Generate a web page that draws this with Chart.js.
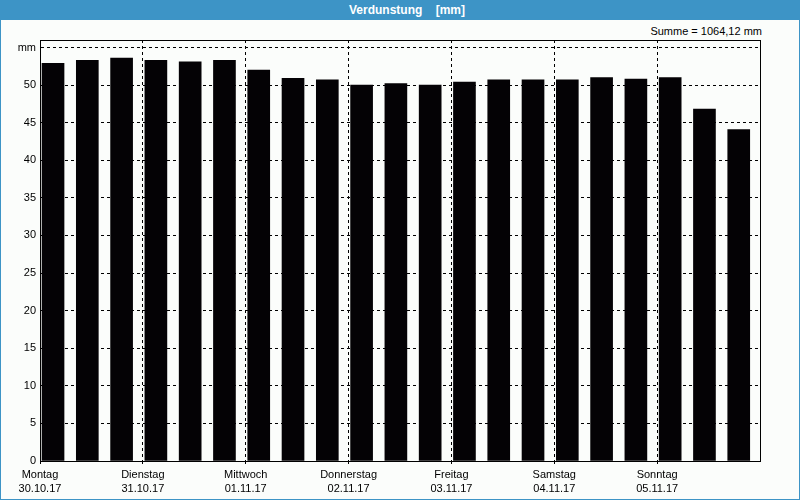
<!DOCTYPE html>
<html>
<head>
<meta charset="utf-8">
<script src="https://cdn.jsdelivr.net/npm/chart.js@4/dist/chart.umd.min.js"></script>
<style>
  body { margin: 0; background: #fbfdfb; }
  #wrap { position: relative; width: 800px; height: 500px; background: #fbfdfb; overflow: hidden; }
  #titlebar {
    position: absolute; left: 0; top: 0; width: 800px; height: 20px;
    background: #3d94c6; color: #fff; text-align: center;
    font: bold 12px "Liberation Sans", Arial, sans-serif; line-height: 20px;
    white-space: pre; padding-left: 14px; box-sizing: border-box;
  }
  #summe {
    position: absolute; right: 38px; top: 25px;
    font: 11px "Liberation Sans", Arial, sans-serif; color: #000;
  }
  #frame { position: absolute; left: 0; top: 0; width: 800px; height: 500px; box-sizing: border-box;
    border: 1px solid #3d94c6; pointer-events: none; }
  #box { position: absolute; left: 0; top: 20px; width: 800px; height: 480px; }
</style>
</head>
<body>
<div id="wrap">
  <div id="titlebar">Verdunstung    [mm]</div>
  <div id="summe">Summe = 1064,12 mm</div>
  <div id="box"><canvas id="myChart"></canvas></div>
  <div id="frame"></div>
</div>
<script>
// Tage und Datum fuer die Achse
const days = ['Montag', 'Dienstag', 'Mittwoch', 'Donnerstag', 'Freitag', 'Samstag', 'Sonntag'];
const dates = ['30.10.17', '31.10.17', '01.11.17', '02.11.17', '03.11.17', '04.11.17', '05.11.17'];
// Verdunstung in mm, drei Werte pro Tag
const values = [52.9, 53.3, 53.6, 53.3, 53.1, 53.3, 52.0, 50.9, 50.7, 50.0, 50.2, 50.0,
                50.4, 50.7, 50.7, 50.7, 51.0, 50.8, 51.0, 46.8, 44.1];
const yTicks = [0, 5, 10, 15, 20, 25, 30, 35, 40, 45, 50, 55];

const font = { family: '"Liberation Sans", Arial, sans-serif', size: 11 };

function chart1() {
  const ctx = document.getElementById('myChart');
  const barShift = 0.38; // Balken sitzen links im Slot

  // Rahmen um die Zeichenflaeche
  const boxPlugin = {
    id: 'box',
    afterDraw(chart) {
      const a = chart.chartArea;
      const c = chart.ctx;
      c.save();
      c.setLineDash([]);
      c.strokeStyle = '#000';
      c.lineWidth = 1;
      c.strokeRect(Math.round(a.left) + 0.5, Math.round(a.top) + 0.5,
                   Math.round(a.right - a.left), Math.round(a.bottom - a.top));
      c.restore();
    }
  };

  new Chart(ctx, {
    type: 'bar',
    data: {
      datasets: [{
        data: values.map((v, i) => ({ x: i + barShift, y: v })),
        backgroundColor: '#040205',
        borderWidth: 0,
        barThickness: 22
      }]
    },
    options: {
      responsive: true,
      maintainAspectRatio: false,
      animation: false,
      layout: { padding: { top: 20, right: 40, left: 0, bottom: 0 } },
      plugins: { legend: { display: false }, tooltip: { enabled: false } },
      scales: {
        x: {
          type: 'linear',
          min: 0,
          max: 21,
          offset: false,
          grid: {
            offset: false,
            color: '#000',
            tickLength: 3,
            tickBorderDash: [],
            tickColor: c => c.tick && c.tick.value === 21 ? 'transparent' : '#000'
          },
          border: { display: true, color: '#000', dash: [3, 3] },
          ticks: {
            stepSize: 3,
            autoSkip: false,
            maxRotation: 0,
            padding: 4,
            color: '#000',
            font: { ...font, lineHeight: '14px' },
            callback: v => (v / 3 < days.length ? [days[v / 3], dates[v / 3]] : '')
          },
          afterFit: s => { s.height = 39; }
        },
        y: {
          min: 0,
          max: 56,
          grid: { color: '#000', drawTicks: false },
          border: { display: true, color: '#000', dash: [3, 3] },
          afterBuildTicks: s => { s.ticks = yTicks.map(v => ({ value: v })); },
          ticks: {
            padding: 4,
            color: '#000',
            font: font,
            callback: v => (v === 55 ? 'mm' : v)
          },
          afterFit: s => { s.width = 40; }
        }
      }
    },
    plugins: [boxPlugin]
  });
}

chart1();
</script>
</body>
</html>
